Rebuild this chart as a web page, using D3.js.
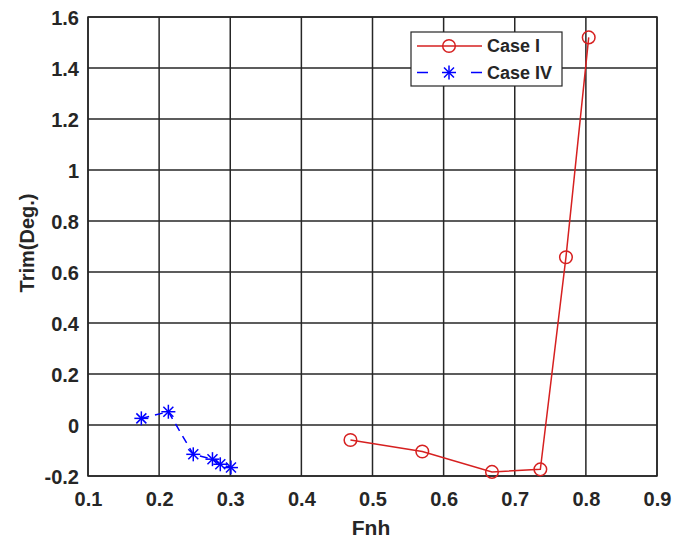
<!DOCTYPE html>
<html><head><meta charset="utf-8">
<script src="https://cdn.jsdelivr.net/npm/d3@7"></script>
<style>body{margin:0;background:#fff}svg{display:block}text{font-family:"Liberation Sans",Arial,sans-serif;font-weight:bold;fill:#262626}</style>
</head><body>
<svg id="c" width="688" height="539"></svg>
<script>
const caseIX = [0.469, 0.570, 0.668, 0.736, 0.772, 0.804];
const caseIY = [-0.059, -0.104, -0.184, -0.174, 0.658, 1.52];
const caseIVX = [0.175, 0.213, 0.248, 0.275, 0.286, 0.301];
const caseIVY = [0.026, 0.052, -0.115, -0.134, -0.154, -0.167];
const xTicks = [0.1,0.2,0.3,0.4,0.5,0.6,0.7,0.8,0.9];
const yTicks = [-0.2,0,0.2,0.4,0.6,0.8,1,1.2,1.4,1.6];
const seriesNames = ["Case I","Case IV"];

const svg = d3.select("#c");
const L=88,R=657,T=17,B=476;
const x = d3.scaleLinear().domain([0.1,0.9]).range([L,R]);
const y = d3.scaleLinear().domain([-0.2,1.6]).range([B,T]);
const fmt = d => String(+d.toFixed(1));

// grid
const g = svg.append("g");
g.selectAll("line.vx").data(xTicks).join("line")
 .attr("x1",d=>x(d)).attr("x2",d=>x(d)).attr("y1",T).attr("y2",B)
 .attr("stroke","#262626").attr("stroke-width",1.5);
g.selectAll("line.hy").data(yTicks).join("line")
 .attr("y1",d=>y(d)).attr("y2",d=>y(d)).attr("x1",L).attr("x2",R)
 .attr("stroke","#262626").attr("stroke-width",1.5);
svg.append("rect").attr("x",L).attr("y",T).attr("width",R-L).attr("height",B-T)
 .attr("fill","none").attr("stroke","#262626").attr("stroke-width",1.5);

// axes labels
const xa = svg.append("g").attr("transform",`translate(0,${B})`)
 .call(d3.axisBottom(x).tickValues(xTicks).tickSize(0).tickPadding(0).tickFormat(fmt));
xa.select(".domain").remove();
xa.selectAll("text").attr("y",30).attr("dy",0).style("font-size","20px");
const ya = svg.append("g").attr("transform",`translate(${L},0)`)
 .call(d3.axisLeft(y).tickValues(yTicks).tickSize(0).tickPadding(9).tickFormat(fmt));
ya.select(".domain").remove();
ya.selectAll("text").attr("dy","0.36em").style("font-size","20px");

svg.append("text").attr("x",371).attr("y",535).attr("text-anchor","middle")
 .style("font-size","21px").text("Fnh");
svg.append("text").attr("transform","translate(34,243) rotate(-90)").attr("text-anchor","middle")
 .style("font-size","20px").text("Trim(Deg.)");

const red="#d62020", blue="#0000ff";
const line = d3.line();
const d1 = caseIX.map((v,i)=>[x(v),y(caseIY[i])]);
const d2 = caseIVX.map((v,i)=>[x(v),y(caseIVY[i])]);
svg.append("path").attr("d",line(d1)).attr("fill","none").attr("stroke",red).attr("stroke-width",1.5);
svg.append("path").attr("d",line(d2)).attr("fill","none").attr("stroke",blue).attr("stroke-width",1.5).attr("stroke-dasharray","8,6");

function circ(sel,p){sel.append("circle").attr("cx",p[0]).attr("cy",p[1]).attr("r",6.3)
 .attr("fill","none").attr("stroke",red).attr("stroke-width",1.5);}
function star(sel,p){const s=7,k=5;
 const segs=[[-s,0,s,0],[0,-s,0,s],[-k,-k,k,k],[-k,k,k,-k]];
 segs.forEach(q=>sel.append("line").attr("x1",p[0]+q[0]).attr("y1",p[1]+q[1]).attr("x2",p[0]+q[2]).attr("y2",p[1]+q[3])
  .attr("stroke",blue).attr("stroke-width",1.5));}
const m1=svg.append("g"); d1.forEach(p=>circ(m1,p));
const m2=svg.append("g"); d2.forEach(p=>star(m2,p));

// legend
const lg = svg.append("g");
lg.append("rect").attr("x",411).attr("y",32).attr("width",151).attr("height",54)
 .attr("fill","#fff").attr("stroke","#262626").attr("stroke-width",1.2);
lg.append("line").attr("x1",417).attr("x2",482).attr("y1",46).attr("y2",46).attr("stroke",red).attr("stroke-width",1.5);
circ(lg,[449,46]);
lg.append("line").attr("x1",417).attr("x2",482).attr("y1",72.5).attr("y2",72.5).attr("stroke",blue).attr("stroke-width",1.5).attr("stroke-dasharray","11,43");
star(lg,[449,72.5]);
lg.selectAll("text").data(seriesNames).join("text").attr("x",487).attr("y",(d,i)=>46+i*26.5).attr("dy","0.36em")
 .style("font-size","18px").text(d=>d);
</script>
</body></html>
